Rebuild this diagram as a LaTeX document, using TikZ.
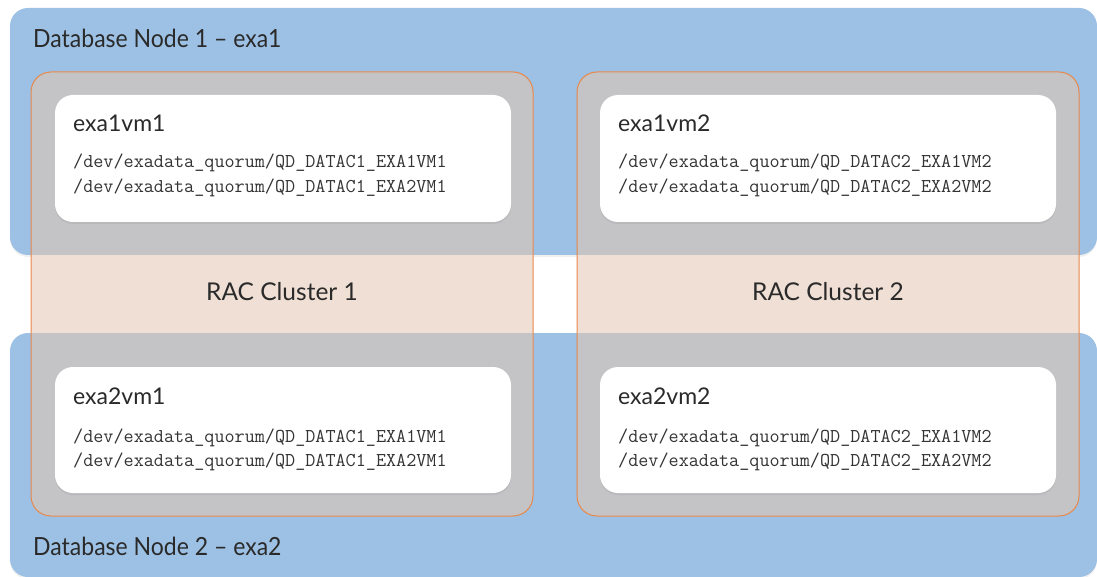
\documentclass[tikz,border=0pt]{standalone}
\usepackage{fontspec}
\setmainfont{Lato}
\usetikzlibrary{shadows}
\definecolor{nodeblue}{HTML}{9DC1E4}
\definecolor{clgray}{HTML}{C4C4C6}
\definecolor{clpeach}{HTML}{EFDFD4}
\definecolor{clorange}{HTML}{E8874A}
\definecolor{txt}{HTML}{2A2A2A}
\definecolor{mono}{HTML}{333333}
\newcommand{\narrowtxt}[1]{\scalebox{0.92}[1]{#1}}
\tikzset{
  dbnode/.style={fill=nodeblue, rounded corners=18pt, drop shadow={opacity=0.12, shadow xshift=0pt, shadow yshift=-2pt}},
  vmbox/.style={fill=white, rounded corners=18pt, drop shadow={opacity=0.15, shadow xshift=0pt, shadow yshift=-2pt}},
  bigtxt/.style={anchor=base west, inner sep=0pt, text=txt, font=\fontsize{25}{30}\selectfont},
  vmtxt/.style={anchor=base west, inner sep=0pt, text=txt, font=\fontsize{23}{27}\selectfont},
  ractxt/.style={anchor=base, inner sep=0pt, text=txt, font=\fontsize{24.5}{28}\selectfont},
  monotxt/.style={anchor=base west, inner sep=0pt, text=mono, font=\ttfamily\fontsize{19.6}{22}\selectfont},
}
\begin{document}
\begin{tikzpicture}[x=1pt, y=-1pt]
\useasboundingbox (0,0) rectangle (1097,577);
% database nodes
\path[dbnode] (10,8) rectangle (1097,255);
\path[dbnode] (10,333) rectangle (1097,577);
\node[bigtxt] (db1) at (33,48) {\narrowtxt{Database Node 1 -- exa1}};
\node[bigtxt] (db2) at (33,555) {\narrowtxt{Database Node 2 -- exa2}};
% clusters
\foreach \cx in {31, 577} {
  \fill[clpeach, rounded corners=20pt] (\cx,72) rectangle ++(502,444);
  \begin{scope}
    \clip[rounded corners=20pt] (\cx,72) rectangle ++(502,444);
    \fill[clgray] (0,0) rectangle (1097,255);
    \fill[clgray] (0,333) rectangle (1097,577);
  \end{scope}
  \draw[clorange, line width=1pt, rounded corners=20pt] (\cx,72) rectangle ++(502,444);
}
\node[ractxt] (rac1) at (282,300) {RAC Cluster 1};
\node[ractxt] (rac2) at (828,300) {RAC Cluster 2};
% VM boxes
\path[vmbox] (55,95) rectangle (511,222);
\path[vmbox] (600,95) rectangle (1056,222);
\path[vmbox] (55,367) rectangle (511,493);
\path[vmbox] (600,367) rectangle (1056,493);
% VM texts
\node[vmtxt] (v11) at (73,132) {exa1vm1};
\node[monotxt] (v11a) at (73,168) {/dev/exadata\_quorum/QD\_DATAC1\_EXA1VM1};
\node[monotxt] (v11b) at (73,193) {/dev/exadata\_quorum/QD\_DATAC1\_EXA2VM1};
\node[vmtxt] (v12) at (618,132) {exa1vm2};
\node[monotxt] (v12a) at (618,168) {/dev/exadata\_quorum/QD\_DATAC2\_EXA1VM2};
\node[monotxt] (v12b) at (618,193) {/dev/exadata\_quorum/QD\_DATAC2\_EXA2VM2};
\node[vmtxt] (v21) at (73,404) {exa2vm1};
\node[monotxt] (v21a) at (73,442) {/dev/exadata\_quorum/QD\_DATAC1\_EXA1VM1};
\node[monotxt] (v21b) at (73,466) {/dev/exadata\_quorum/QD\_DATAC1\_EXA2VM1};
\node[vmtxt] (v22) at (618,404) {exa2vm2};
\node[monotxt] (v22a) at (618,442) {/dev/exadata\_quorum/QD\_DATAC2\_EXA1VM2};
\node[monotxt] (v22b) at (618,466) {/dev/exadata\_quorum/QD\_DATAC2\_EXA2VM2};
\end{tikzpicture}
\end{document}
